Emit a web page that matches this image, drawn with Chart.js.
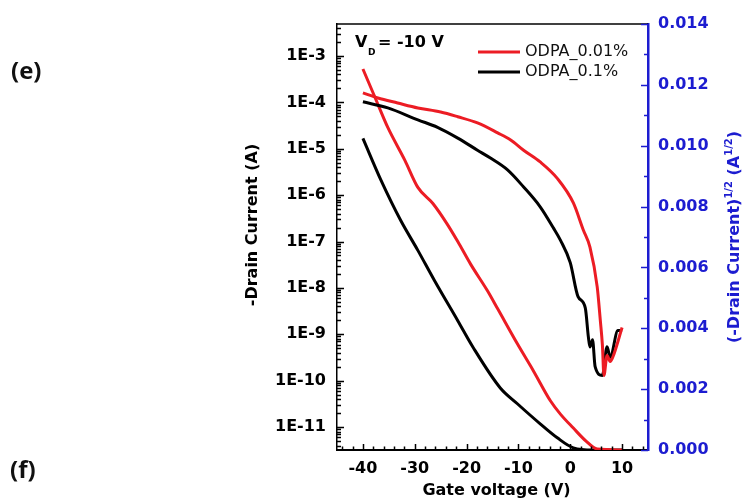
<!DOCTYPE html>
<html>
<head>
<meta charset="utf-8" />
<title>ODPA transfer curves</title>
<script src="https://cdn.jsdelivr.net/npm/chart.js"></script>
<style>
html, body { margin: 0; padding: 0; background: white; }
#wrap { width: 744px; height: 499px; }
</style>
</head>
<body>
<div id="wrap"><canvas id="chart" width="744" height="499"></canvas></div>
<script>
// gate voltage (V) and -Id (A), log axis
const redLogV = [-40, -37.1, -33.3, -29.4, -25, -21.7, -17.9, -14, -11.5, -9, -5.8, -2.5, 0.6, 2.5, 3.8, 5.2, 5.8, 6.2, 6.5, 7.1, 7.7, 8.2, 10];
const redLogI = [1.6e-4, 1.24e-4, 9.7e-5, 7.6e-5, 6.2e-5, 4.9e-5, 3.6e-5, 2.2e-5, 1.55e-5, 9.3e-6, 5.2e-6, 2.3e-6, 6.8e-7, 1.8e-7, 7.6e-8, 1.05e-8, 2.0e-9, 5.9e-10, 1.3e-10, 3.5e-10, 2.6e-10, 3.2e-10, 1.4e-9];
const blackLogV = [-40, -35.2, -29.4, -25.6, -21.7, -17.9, -15.4, -12.1, -9, -5.8, -3.3, -1.9, 0, 1.5, 2.9, 3.5, 3.8, 4.3, 4.8, 6.2, 7.1, 7.7, 9.2, 10];
const blackLogI = [1.03e-4, 7.6e-5, 4.2e-5, 2.9e-5, 1.7e-5, 9.3e-6, 6.3e-6, 3.5e-6, 1.5e-6, 5.6e-7, 2.0e-7, 1.07e-7, 3.5e-8, 6.5e-9, 3.7e-9, 8.7e-10, 5.3e-10, 7.6e-10, 2.0e-10, 1.3e-10, 5.4e-10, 3.2e-10, 1.2e-9, 1.2e-9];

// sqrt(-Id), right axis
const redSqrtV = [-40, -37.7, -35.2, -31.9, -29.4, -26.5, -23.8, -21.7, -19.2, -16, -14, -10.2, -7.1, -3.8, -1.9, 0.6, 3, 5.2, 10];
const redSqrtI = [0.01252, 0.0116, 0.0106, 0.00952, 0.00863, 0.0081, 0.00744, 0.00685, 0.0061, 0.00524, 0.00464, 0.00349, 0.0026, 0.00161, 0.00118, 0.00072, 0.0003, 0.00003, 0];
const blackSqrtV = [-40, -36.5, -32.7, -29.4, -26.2, -21.7, -18.7, -13.5, -10.2, -5.8, -2.5, 0.6, 4.4, 10];
const blackSqrtI = [0.01024, 0.00886, 0.00754, 0.00656, 0.00557, 0.00425, 0.00336, 0.00204, 0.00152, 0.00086, 0.0004, 0.00007, 0, 0];

// tick labels
const xTicks = [-40, -30, -20, -10, 0, 10];
const leftExps = [-11, -10, -9, -8, -7, -6, -5, -4, -3];
const rightTicks = [0, 0.002, 0.004, 0.006, 0.008, 0.010, 0.012, 0.014];

const RED = '#ec1c24';
const BLUE = '#1c1cd0';
const FONT = "'DejaVu Sans', sans-serif";

function pts(xs, ys) { return xs.map((x, i) => ({ x: x, y: ys[i] })); }

const deco = {
    id: 'deco',
    afterDraw(chart) {
        const c = chart.ctx;
        const a = chart.chartArea;
        const sx = chart.scales.x, sy = chart.scales.y, sy1 = chart.scales.y1;
        c.save();
        // top frame line
        c.strokeStyle = '#000';
        c.lineWidth = 1.5;
        c.beginPath(); c.moveTo(a.left, a.top); c.lineTo(a.right, a.top); c.stroke();

        // inward tick marks
        c.lineWidth = 1.5;
        c.beginPath();
        for (let v = -44; v <= 14; v += 2) {
            const px = Math.round(sx.getPixelForValue(v)) + 0.5;
            const len = v % 10 === 0 ? 6 : 3.5;
            c.moveTo(px, a.bottom); c.lineTo(px, a.bottom - len);
        }
        for (let e = -12; e <= -3; e++) {
            for (let m = 1; m <= 9; m++) {
                const v = m * Math.pow(10, e);
                if (v < sy.min || v > sy.max) continue;
                const py = Math.round(sy.getPixelForValue(v)) + 0.5;
                const len = m === 1 ? 7 : 4;
                c.moveTo(a.left, py); c.lineTo(a.left + len, py);
            }
        }
        c.stroke();
        c.strokeStyle = BLUE;
        c.beginPath();
        for (let k = 0; k <= 14; k++) {
            const py = Math.round(sy1.getPixelForValue(k * 0.001)) + 0.5;
            const len = k % 2 === 0 ? 7 : 4;
            c.moveTo(a.right, py); c.lineTo(a.right - len, py);
        }
        c.stroke();

        // panel letters
        c.fillStyle = '#111';
        c.font = "bold 24px 'Open Sans', sans-serif";
        c.textBaseline = 'middle';
        c.textAlign = 'left';
        c.fillText('(e)', 11, 72);
        c.fillText('(f)', 10, 471);

        // V_D annotation
        c.fillStyle = '#000';
        c.textBaseline = 'alphabetic';
        c.font = 'bold 16px ' + FONT;
        c.fillText('V', 355, 47);
        c.font = 'bold 9px ' + FONT;
        c.fillText('D', 368, 55);
        c.font = 'bold 16px ' + FONT;
        c.fillText('= -10 V', 378, 47);

        // legend (log datasets)
        const ds = chart.data.datasets;
        [0, 1].forEach((i, k) => {
            const y = 52 + k * 20;
            c.strokeStyle = ds[i].borderColor;
            c.lineWidth = 3;
            c.beginPath(); c.moveTo(478, y); c.lineTo(520, y); c.stroke();
            c.fillStyle = '#111';
            c.font = '16px ' + FONT;
            c.textBaseline = 'middle';
            c.fillText(ds[i].label, 525, y);
        });

        // axis titles
        c.fillStyle = '#000';
        c.font = 'bold 16px ' + FONT;
        c.textAlign = 'center';
        c.textBaseline = 'alphabetic';
        c.fillText('Gate voltage (V)', (a.left + a.right) / 2 + 4, 495);

        c.save();
        c.translate(253, 225);
        c.rotate(-Math.PI / 2);
        c.textBaseline = 'middle';
        c.fillText('-Drain Current (A)', 0, 0);
        c.restore();

        // right title with superscripts
        c.save();
        c.translate(735, 237);
        c.rotate(-Math.PI / 2);
        c.fillStyle = BLUE;
        c.textAlign = 'left';
        c.textBaseline = 'middle';
        const parts = [['(-Drain Current)', 16, 0], ['1/2', 10, -6], [' (A', 16, 0], ['1/2', 10, -6], [')', 16, 0]];
        let total = 0;
        parts.forEach(p => { c.font = 'bold ' + p[1] + 'px ' + FONT; total += c.measureText(p[0]).width; });
        let x = -total / 2;
        parts.forEach(p => {
            c.font = 'bold ' + p[1] + 'px ' + FONT;
            c.fillText(p[0], x, p[2]);
            x += c.measureText(p[0]).width;
        });
        c.restore();

        c.restore();
    }
};

const ctx = document.getElementById('chart').getContext('2d');
new Chart(ctx, {
    type: 'line',
    data: {
        datasets: [
            { label: 'ODPA_0.01%', data: pts(redLogV, redLogI), yAxisID: 'y', borderColor: RED },
            { label: 'ODPA_0.1%', data: pts(blackLogV, blackLogI), yAxisID: 'y', borderColor: '#000' },
            { label: 'sqrt ODPA_0.01%', data: pts(redSqrtV, redSqrtI), yAxisID: 'y1', borderColor: RED },
            { label: 'sqrt ODPA_0.1%', data: pts(blackSqrtV, blackSqrtI), yAxisID: 'y1', borderColor: '#000' }
        ]
    },
    options: {
        responsive: false,
        animation: false,
        layout: { padding: { top: 24, left: 0, right: 0, bottom: 0 } },
        plugins: { legend: { display: false }, tooltip: { enabled: false } },
        elements: {
            point: { radius: 0 },
            line: { borderWidth: 3, cubicInterpolationMode: 'monotone', fill: false }
        },
        scales: {
            x: {
                type: 'linear', min: -45, max: 15,
                afterBuildTicks: s => { s.ticks = xTicks.map(v => ({ value: v })); },
                afterFit: s => { s.height = 49; },
                ticks: { autoSkip: false, maxRotation: 0, padding: 9, color: '#000',
                         font: { family: FONT, size: 16, weight: 'bold' } },
                grid: { drawOnChartArea: false, drawTicks: false },
                border: { color: '#000', width: 2 }
            },
            y: {
                type: 'logarithmic', position: 'left', min: 3.2e-12, max: 4.9e-3,
                afterBuildTicks: s => { s.ticks = leftExps.map(e => ({ value: Math.pow(10, e) })); },
                afterFit: s => { s.width = 337; },
                ticks: { autoSkip: false, padding: 11, color: '#000',
                         font: { family: FONT, size: 16, weight: 'bold' },
                         callback: v => '1E' + Math.round(Math.log10(v)) },
                grid: { drawOnChartArea: false, drawTicks: false },
                border: { color: '#000', width: 1.5 }
            },
            y1: {
                type: 'linear', position: 'right', min: 0, max: 0.014,
                afterBuildTicks: s => { s.ticks = rightTicks.map(v => ({ value: v })); },
                afterFit: s => { s.width = 96; },
                ticks: { autoSkip: false, padding: 10, color: BLUE,
                         font: { family: FONT, size: 16, weight: 'bold' },
                         callback: v => v.toFixed(3) },
                grid: { drawOnChartArea: false, drawTicks: false },
                border: { color: BLUE, width: 2.5 }
            }
        }
    },
    plugins: [deco]
});
</script>
</body>
</html>
